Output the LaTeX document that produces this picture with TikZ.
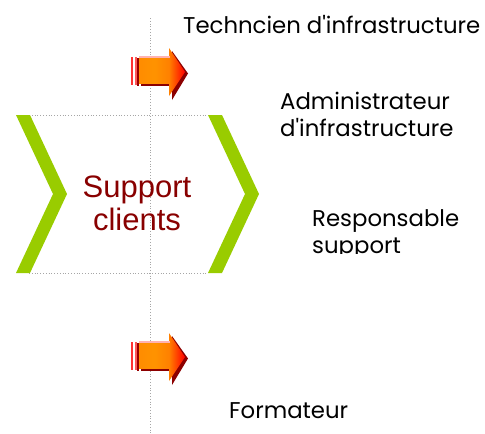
\documentclass[tikz,border=0pt]{standalone}
\usepackage{fontspec}
\setmainfont{Liberation Sans}
\newfontfamily\labfont{Poppins}
\begin{document}
\begin{tikzpicture}[x=1pt,y=-1pt,
  lab/.style={font=\labfont\fontsize{22.8}{27}\selectfont, anchor=west, align=left, inner sep=0pt, text=black},
  dotline/.style={draw=gray!70, dotted, line width=0.8pt}]
\useasboundingbox (0,0) rectangle (485,434);
\definecolor{chevgreen}{HTML}{99CC00}
\definecolor{darkred}{HTML}{880000}
% vertical dotted line
\coordinate (vt) at (150,18);
\coordinate (vb) at (150,434);
\draw[dotline] (vt) -- (vb);
% dotted box
\coordinate (b1) at (29,115); \coordinate (b2) at (208,115);
\coordinate (b3) at (29,273); \coordinate (b4) at (208,273);
\draw[dotline] (b1) -- (b2);
\draw[dotline] (b3) -- (b4);
% chevrons
\fill[chevgreen] (16,115) -- (30,115) -- (67,194) -- (30,273) -- (16,273) -- (53,194) -- cycle;
\fill[chevgreen] (208,115) -- (222,115) -- (259,194) -- (222,273) -- (208,273) -- (245,194) -- cycle;
\node[text=darkred, font=\fontsize{31}{33}\selectfont, align=center, inner sep=0pt] (sc) at (137,203) {Support\\clients};
% arrows
\foreach \yy/\nm in {48/a1, 333/a2}{
  \begin{scope}[yshift=-\yy pt]
    \fill[red!80!white] (131,9) rectangle (133,37);
    \fill[red!65!white] (135,9) rectangle (137,37);
    \fill[red!60!black] (137,10) rectangle (139,38);
    \fill[red!55!black] (141,11) rectangle (172,38);
    \fill[red!55!black] (172,3) -- (188,25.5) -- (172,52) -- cycle;
    \shade[left color=orange!90!yellow, right color=orange, middle color=orange!85!yellow] (139,8) rectangle (170,35);
    \shade[left color=orange, right color=red] (169,0) -- (185,24) -- (169,48) -- cycle;
    \fill[red!30!white] (139,8) rectangle (170,9.5);
  \end{scope}
}
% labels
\node[lab] (l1) at (183,25) {Techncien d'infrastructure};
\node[lab] (l2) at (280,114) {Administrateur\\d'infrastructure};
\begin{scope}
  \clip (300,200) rectangle (485,253);
  \node[lab] (l3) at (312,235) {Responsable\\support};
\end{scope}
\node[lab] (l4) at (229,411) {Formateur};
\end{tikzpicture}
\end{document}
